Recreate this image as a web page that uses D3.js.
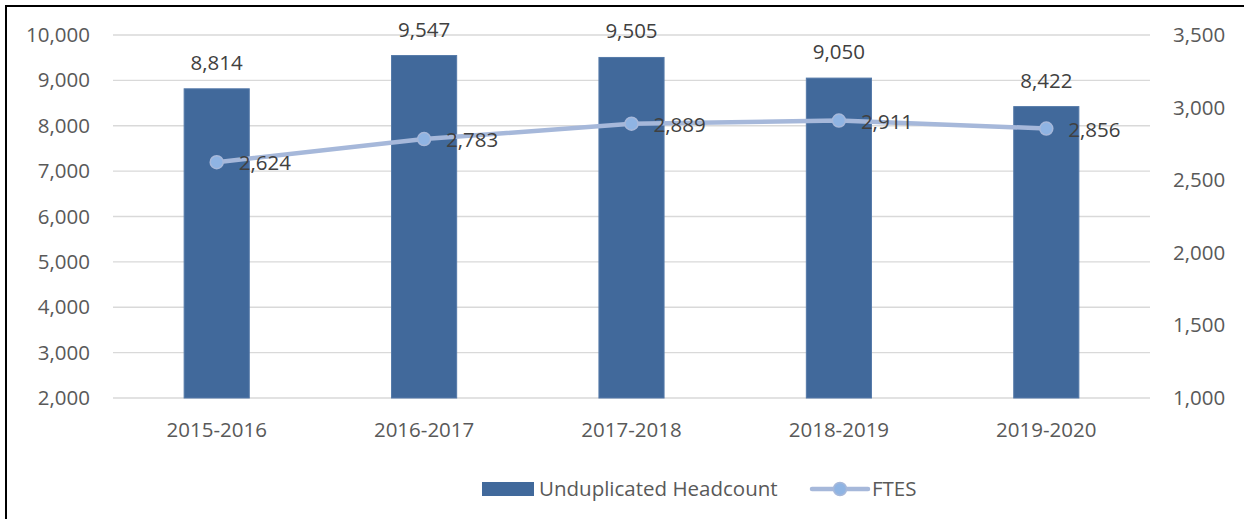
<!DOCTYPE html>
<html>
<head>
<meta charset="utf-8">
<script src="https://cdn.jsdelivr.net/npm/d3@7"></script>
<style>
  body { margin: 0; background: #fff; }
  text { font-family: "Open Sans", "Noto Sans", sans-serif; }
</style>
</head>
<body>
<div id="chart"></div>
<script>
var years = ["2015-2016", "2016-2017", "2017-2018", "2018-2019", "2019-2020"];
var headcount = [8814, 9547, 9505, 9050, 8422];
var ftes = [2624, 2783, 2889, 2911, 2856];
var leftTicks = [2000, 3000, 4000, 5000, 6000, 7000, 8000, 9000, 10000];
var rightTicks = [1000, 1500, 2000, 2500, 3000, 3500];

var W = 1244, H = 519;
var margin = {top: 35, right: 94, bottom: 121, left: 113};
var width = W - margin.left - margin.right;
var height = H - margin.top - margin.bottom;
var fs = "20.5px";

var svg = d3.select("#chart").append("svg")
  .attr("width", W)
  .attr("height", H);

// outer frame
svg.append("rect")
  .attr("x", 6).attr("y", 6)
  .attr("width", W).attr("height", H)
  .attr("fill", "none")
  .attr("stroke", "#000")
  .attr("stroke-width", 2);

var g = svg.append("g")
  .attr("transform", "translate(" + margin.left + "," + margin.top + ")");

var x = d3.scaleBand().domain(years).range([0, width]).paddingInner(0.686).paddingOuter(0.343);
var yL = d3.scaleLinear().domain([2000, 10000]).range([height, 0]);
var yR = d3.scaleLinear().domain([1000, 3500]).range([height, 0]);

// gridlines
g.append("g")
  .selectAll("line")
  .data(leftTicks)
  .join("line")
  .attr("x1", 0).attr("x2", width)
  .attr("y1", function(d) { return yL(d); })
  .attr("y2", function(d) { return yL(d); })
  .attr("stroke", "#d9d9d9")
  .attr("stroke-width", 1.3);

// left axis
var axL = g.append("g")
  .call(d3.axisLeft(yL).tickValues(leftTicks).tickFormat(d3.format(",")).tickSize(0).tickPadding(23));
axL.select(".domain").remove();
axL.selectAll("text").attr("fill", "#595959").style("font-size", fs);

// right axis
var axR = g.append("g")
  .attr("transform", "translate(" + width + ",0)")
  .call(d3.axisRight(yR).tickValues(rightTicks).tickFormat(d3.format(",")).tickSize(0).tickPadding(23));
axR.select(".domain").remove();
axR.selectAll("text").attr("fill", "#595959").style("font-size", fs);

// bottom axis
var axB = g.append("g")
  .attr("transform", "translate(0," + height + ")")
  .call(d3.axisBottom(x).tickSize(0).tickPadding(24));
axB.select(".domain").remove();
axB.selectAll("text").attr("fill", "#595959").style("font-size", fs);

// bars
g.selectAll(".bar")
  .data(years)
  .join("rect")
  .attr("class", "bar")
  .attr("x", function(d) { return x(d); })
  .attr("width", x.bandwidth())
  .attr("y", function(d, i) { return yL(headcount[i]); })
  .attr("height", function(d, i) { return height - yL(headcount[i]); })
  .attr("fill", "#41699b")
  .attr("stroke", "#5479a8")
  .attr("stroke-width", 1);

// bar labels
g.selectAll(".blabel")
  .data(years)
  .join("text")
  .attr("class", "blabel")
  .attr("x", function(d) { return x(d) + x.bandwidth() / 2; })
  .attr("y", function(d, i) { return yL(headcount[i]) - 19; })
  .attr("text-anchor", "middle")
  .attr("fill", "#404040")
  .style("font-size", fs)
  .text(function(d, i) { return d3.format(",")(headcount[i]); });

// line
var line = d3.line()
  .x(function(d, i) { return x(years[i]) + x.bandwidth() / 2; })
  .y(function(d) { return yR(d); });

g.append("path")
  .datum(ftes)
  .attr("d", line)
  .attr("fill", "none")
  .attr("stroke", "#a6b8da")
  .attr("stroke-width", 4.5)
  .attr("stroke-linejoin", "round");

g.selectAll(".pt")
  .data(ftes)
  .join("circle")
  .attr("class", "pt")
  .attr("cx", function(d, i) { return x(years[i]) + x.bandwidth() / 2; })
  .attr("cy", function(d) { return yR(d); })
  .attr("r", 6.5)
  .attr("fill", "#8fb4e3")
  .attr("stroke", "#a6b8da")
  .attr("stroke-width", 1.5);

g.selectAll(".llabel")
  .data(ftes)
  .join("text")
  .attr("class", "llabel")
  .attr("x", function(d, i) { return x(years[i]) + x.bandwidth() / 2 + 22; })
  .attr("y", function(d) { return yR(d) + 8; })
  .attr("fill", "#404040")
  .style("font-size", fs)
  .text(function(d) { return d3.format(",")(d); });

// legend
var lg = svg.append("g").attr("transform", "translate(482,489)");
lg.append("rect").attr("x", 0).attr("y", -7).attr("width", 52).attr("height", 14).attr("fill", "#41699b");
lg.append("text").attr("x", 57).attr("y", 7).attr("fill", "#595959").style("font-size", fs).text("Unduplicated Headcount");
lg.append("line").attr("x1", 330).attr("x2", 386).attr("y1", 0).attr("y2", 0)
  .attr("stroke", "#a6b8da").attr("stroke-width", 4.5).attr("stroke-linecap", "round");
lg.append("circle").attr("cx", 358).attr("cy", 0).attr("r", 6.5).attr("fill", "#8fb4e3").attr("stroke", "#a6b8da").attr("stroke-width", 1.5);
lg.append("text").attr("x", 390).attr("y", 7).attr("fill", "#595959").style("font-size", fs).text("FTES");
</script>
</body>
</html>
